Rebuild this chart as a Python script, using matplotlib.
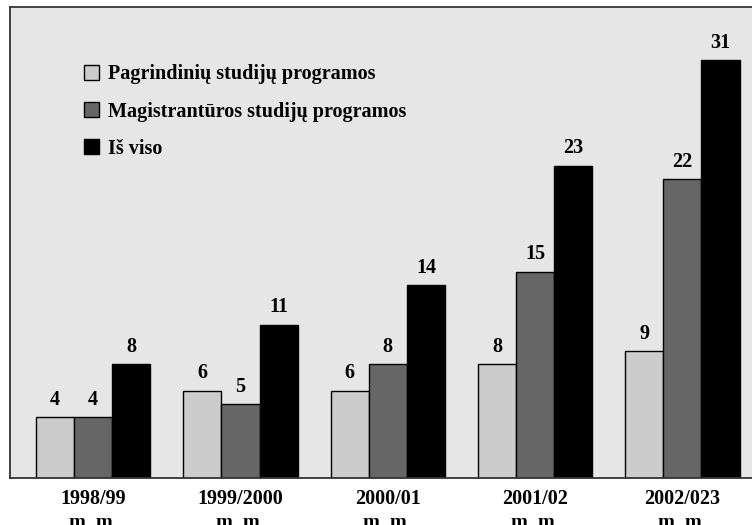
import matplotlib
matplotlib.use('Agg')
import matplotlib.pyplot as plt
import numpy as np

categories = ['1998/99\nm. m.', '1999/2000\nm. m.', '2000/01\nm. m.', '2001/02\nm. m.', '2002/023\nm. m.']
series_names = ['Pagrindinių studijų programos', 'Magistrantūros studijų programos', 'Iš viso']
bachelor = [4, 6, 6, 8, 9]
master = [4, 5, 8, 15, 22]
total = [8, 11, 14, 23, 31]

colors = ['#cccccc', '#666666', '#000000']
plt.rcParams['font.family'] = ['Liberation Serif', 'DejaVu Serif']
plt.rcParams['font.weight'] = 'bold'

fig = plt.figure(figsize=(7.52, 5.25), dpi=100)
ax = fig.add_axes([0.0133, 0.0895, 0.99, 0.8972])
ax.set_facecolor('#e6e6e6')

y_min = -0.6  # axis floor sits a little below zero in the original
x = np.arange(len(categories))
w = 0.259
for i, (vals, c) in enumerate(zip([bachelor, master, total], colors)):
    pos = x + (i - 1) * w
    heights = [v - y_min for v in vals]
    ec = '#000000' if i < 2 else c
    ax.bar(pos, heights, w, bottom=y_min, color=c, edgecolor=ec, linewidth=1.0,
           label=series_names[i])
    for p, v in zip(pos, vals):
        ax.text(p, v + 0.55, str(v), ha='center', va='bottom', fontsize=14.5,
                fontweight='bold')

ax.set_xlim(-0.565, 4.49)
ax.set_ylim(y_min, 35)
ax.set_yticks([])
ax.set_xticks(x)
ax.set_xticklabels(categories, fontsize=14.5, fontweight='bold', linespacing=1.25)
ax.tick_params(axis='x', length=0, pad=8)
for s in ['top', 'left', 'bottom']:
    ax.spines[s].set_color('#333333')
    ax.spines[s].set_linewidth(1.3)
ax.spines['right'].set_visible(False)

leg = ax.legend(loc='upper left', bbox_to_anchor=(0.088, 0.895), frameon=False,
                fontsize=14.5, handlelength=0.78, handleheight=0.78,
                handletextpad=0.45, labelspacing=0.85, borderaxespad=0)
for t in leg.get_texts():
    t.set_fontweight('bold')

plt.savefig('out.png', dpi=100)
